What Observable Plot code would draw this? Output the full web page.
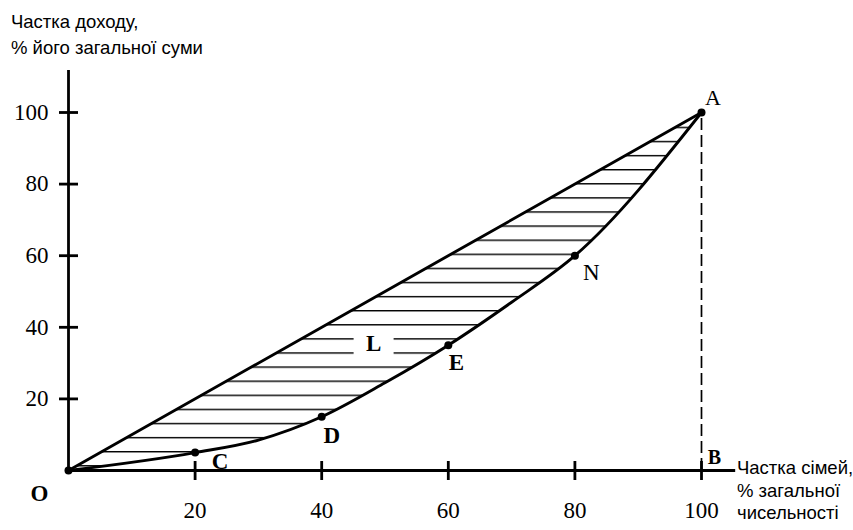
<!DOCTYPE html>
<html>
<head>
<meta charset="utf-8">
<script src="https://cdn.jsdelivr.net/npm/d3@7"></script>
<script src="https://cdn.jsdelivr.net/npm/@observablehq/plot@0.6"></script>
<style>
  html, body { margin: 0; padding: 0; background: #fff; }
  #chart { position: relative; width: 853px; height: 530px; }
</style>
</head>
<body>
<div id="chart"></div>
<script>
// ---- data (Lorenz curve) ----
const familyShare = [0, 20, 30, 40, 50, 60, 70, 80, 100];   // % of families (x)
const incomeShare = [0, 5, 8.5, 15, 24.5, 35, 47, 60, 100];  // % of income (y)

const markedNames = ["O", "C", "D", "E", "N", "A"];
const markedX = [0, 20, 40, 60, 80, 100];
const markedY = [0, 5, 15, 35, 60, 100];

const footName = ["B"];
const footX = [100];
const footY = [0];

const regionName = ["L"];
const regionX = [48.2];
const regionY = [35.5];

const xTicks = [20, 40, 60, 80, 100];
const yTicks = [20, 40, 60, 80, 100];

const yTitle = ["Частка доходу,", "% його загальної суми"];
const xTitle = ["Частка сімей,", "% загальної", "чисельності"];

// ---- tables built from the arrays ----
const curve = familyShare.map((x, i) => ({x, y: incomeShare[i]}));
const marked = markedNames.map((name, i) => ({name, x: markedX[i], y: markedY[i]}));
const foot = footName.map((name, i) => ({name, x: footX[i], y: footY[i]}));
const region = regionName.map((name, i) => ({name, x: regionX[i], y: regionY[i]}));
const first = curve[0], last = curve[curve.length - 1];
const equality = [first, {x: last.x, y: last.x}];

// label styling (offsets in px from the point)
const labelStyle = {
  O: {dx: -29, dy: 23, weight: "bold", size: 23},
  C: {dx: 25, dy: 9.5, weight: "bold", size: 23},
  D: {dx: 10, dy: 18.5, weight: "bold", size: 23},
  E: {dx: 8, dy: 17.5, weight: "bold", size: 23},
  N: {dx: 16.5, dy: 17, weight: "normal", size: 23},
  A: {dx: 11.5, dy: -15, weight: "normal", size: 22}
};

const serif = "'Liberation Serif', 'Times New Roman', serif";
const sans = "'Liberation Sans', Arial, sans-serif";

const vTick = {draw(ctx) { ctx.moveTo(0, -9.5); ctx.lineTo(0, 9.5); }};
const hTick = {draw(ctx) { ctx.moveTo(-9.5, 0); ctx.lineTo(9.5, 0); }};
const whiteBox = {draw(ctx) { ctx.rect(-20, -12, 40, 24); }};

const labelMarks = marked.map(d => {
  const s = labelStyle[d.name];
  return Plot.text([d], {x: "x", y: "y", text: "name", dx: s.dx, dy: s.dy,
    fontFamily: serif, fontWeight: s.weight, fontSize: s.size, fill: "black"});
});

const plot = Plot.plot({
  width: 853,
  height: 530,
  marginLeft: 68,
  marginRight: 152,
  marginTop: 112,
  marginBottom: 60,
  x: {domain: [0, 100], axis: null},
  y: {domain: [0, 100], axis: null},
  style: {background: "white", overflow: "visible"},
  marks: [
    // hatched area between equality line and Lorenz curve
    Plot.areaY(curve, {x: "x", y1: "y", y2: d => d.x, curve: "monotone-x", fill: "#fff", stroke: "none"}),
    // white box behind L
    Plot.dot(region, {x: "x", y: "y", symbol: whiteBox, fill: "white", stroke: "none"}),
    Plot.text(region, {x: "x", y: "y", text: "name", fontFamily: serif, fontWeight: "bold", fontSize: 23, fill: "black"}),
    // dashed perpendicular A-B
    Plot.ruleX([last], {x: "x", y1: d => foot[0].y, y2: "y", stroke: "black", strokeWidth: 1.7, strokeDasharray: "12,5"}),
    // axes lines
    Plot.ruleY([0], {x1: 0, x2: 105.4, stroke: "black", strokeWidth: 2.8}),
    Plot.ruleX([0], {y1: 0, y2: 111.7, stroke: "black", strokeWidth: 2.8}),
    // crossing ticks
    Plot.dot(xTicks, {x: d => d, y: 0, symbol: vTick, stroke: "black", strokeWidth: 2.8, fill: "none"}),
    Plot.dot(yTicks, {x: 0, y: d => d, symbol: hTick, stroke: "black", strokeWidth: 2.8, fill: "none"}),
    // tick labels
    Plot.axisX({ticks: xTicks, tickSize: 0, tickPadding: 31, fontSize: 23, fontFamily: serif, label: null, fill: "black"}),
    Plot.axisY({ticks: yTicks, tickSize: 0, tickPadding: 20, fontSize: 23, fontFamily: serif, label: null, fill: "black"}),
    // equality line and Lorenz curve
    Plot.line(equality, {x: "x", y: "y", stroke: "black", strokeWidth: 2.9}),
    Plot.line(curve, {x: "x", y: "y", curve: "monotone-x", stroke: "black", strokeWidth: 2.9}),
    // points
    Plot.dot(marked, {x: "x", y: "y", r: 4, fill: "black", stroke: "none"}),
    ...labelMarks,
    Plot.text(foot, {x: "x", y: "y", text: "name", dx: 13, dy: -13, fontFamily: serif, fontWeight: "bold", fontSize: 20, fill: "black"})
  ]
});

// hatch pattern
const svg = d3.select(plot);
const defs = svg.insert("defs", ":first-child");
const pat = defs.append("pattern")
  .attr("id", "hatch").attr("patternUnits", "userSpaceOnUse")
  .attr("x", 0).attr("y", 451).attr("width", 853).attr("height", 14.1);
pat.append("line").attr("x1", 0).attr("x2", 853).attr("y1", 0.75).attr("y2", 0.75)
  .attr("stroke", "black").attr("stroke-width", 1.5);
svg.selectAll('g[aria-label="area"] path').attr("fill", "url(#hatch)");

// axis titles
const tY = svg.append("g").attr("font-family", sans).attr("font-size", 18.5)
  .attr("fill", "black").attr("text-anchor", "start");
yTitle.forEach((t, i) => tY.append("text").attr("x", 11).attr("y", 28 + i * 25.5).text(t));
const tX = svg.append("g").attr("font-family", sans).attr("font-size", 18.5)
  .attr("fill", "black").attr("text-anchor", "start");
xTitle.forEach((t, i) => tX.append("text").attr("x", 737).attr("y", 474 + i * 22.5).text(t));

document.getElementById("chart").appendChild(plot);
</script>
</body>
</html>
